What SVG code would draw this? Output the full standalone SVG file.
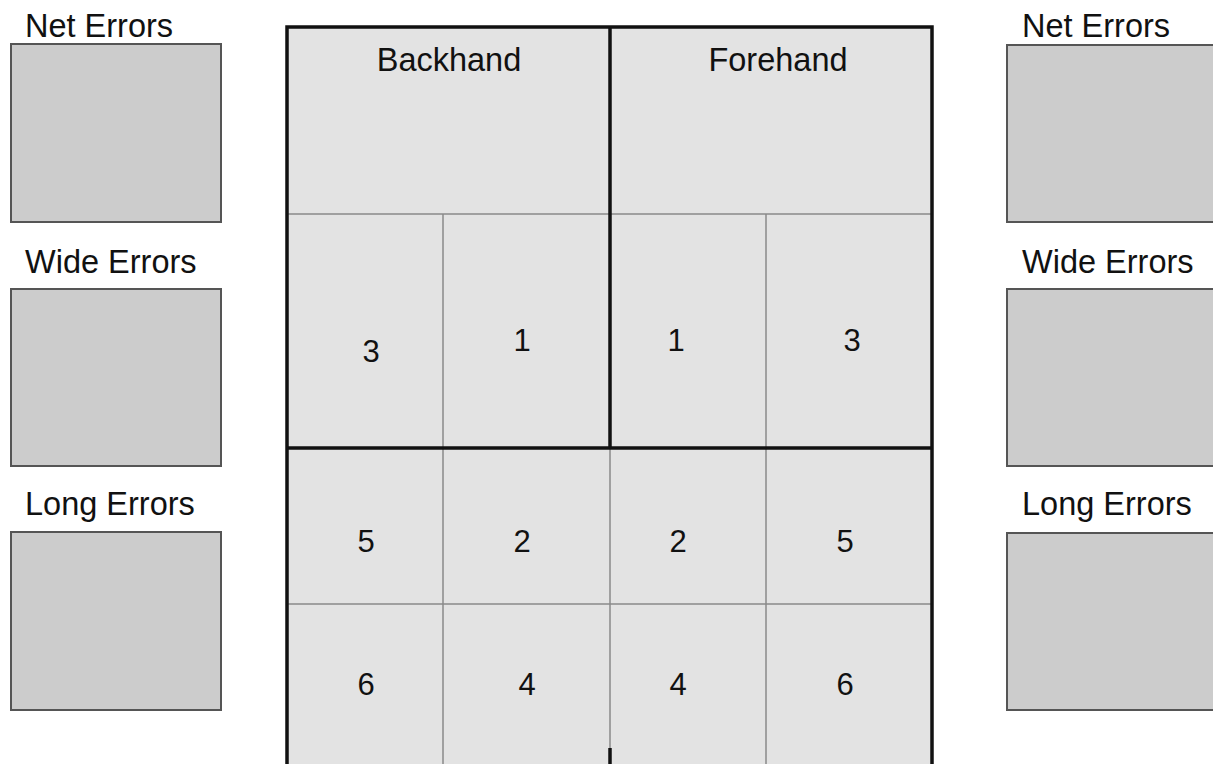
<svg xmlns="http://www.w3.org/2000/svg" width="1213" height="764" viewBox="0 0 1213 764">
<style>
.lbl{font-family:"Liberation Sans",Arial,sans-serif;font-size:32.5px;fill:#111}
.num{font-family:"Liberation Sans",Arial,sans-serif;font-size:31px;fill:#111;text-anchor:middle}
.box{fill:#cccccc;stroke:#555;stroke-width:2}
.thick{stroke:#111;stroke-width:3.5;fill:none}
.thin{stroke:#8a8a8a;stroke-width:1.5;fill:none}
</style>
<rect width="1213" height="764" fill="#ffffff"/>
<g id="left-net"><text class="lbl" x="25" y="37">Net Errors</text><rect class="box" x="11" y="44" width="210" height="178"/></g>
<g id="left-wide"><text class="lbl" x="25" y="273">Wide Errors</text><rect class="box" x="11" y="289" width="210" height="177"/></g>
<g id="left-long"><text class="lbl" x="25" y="515">Long Errors</text><rect class="box" x="11" y="532" width="210" height="178"/></g>
<g id="right-net"><text class="lbl" x="1022" y="37">Net Errors</text><rect class="box" x="1007" y="45" width="220" height="177"/></g>
<g id="right-wide"><text class="lbl" x="1022" y="273">Wide Errors</text><rect class="box" x="1007" y="289" width="220" height="177"/></g>
<g id="right-long"><text class="lbl" x="1022" y="515">Long Errors</text><rect class="box" x="1007" y="533" width="220" height="177"/></g>
<g id="court">
<rect x="287" y="27" width="645" height="750" fill="#e3e3e3"/>
<line class="thin" x1="287" y1="214" x2="932" y2="214"/>
<line class="thin" x1="287" y1="604" x2="932" y2="604"/>
<line class="thin" x1="443" y1="214" x2="443" y2="764"/>
<line class="thin" x1="766" y1="214" x2="766" y2="764"/>
<line class="thin" x1="610" y1="448" x2="610" y2="764"/>
<line class="thick" x1="610" y1="27" x2="610" y2="448"/>
<line class="thick" x1="287" y1="448" x2="932" y2="448"/>
<line class="thick" x1="610" y1="748" x2="610" y2="766"/>
<path class="thick" d="M287 766 V27 H932 V766"/>
</g>
<g id="labels">
<text class="lbl" x="449" y="71" text-anchor="middle">Backhand</text>
<text class="lbl" x="778" y="71" text-anchor="middle">Forehand</text>
<text class="num" x="371" y="362">3</text>
<text class="num" x="522" y="351">1</text>
<text class="num" x="676" y="351">1</text>
<text class="num" x="852" y="351">3</text>
<text class="num" x="366" y="552">5</text>
<text class="num" x="522" y="552">2</text>
<text class="num" x="678" y="552">2</text>
<text class="num" x="845" y="552">5</text>
<text class="num" x="366" y="695">6</text>
<text class="num" x="527" y="695">4</text>
<text class="num" x="678" y="695">4</text>
<text class="num" x="845" y="695">6</text>
</g>
</svg>
